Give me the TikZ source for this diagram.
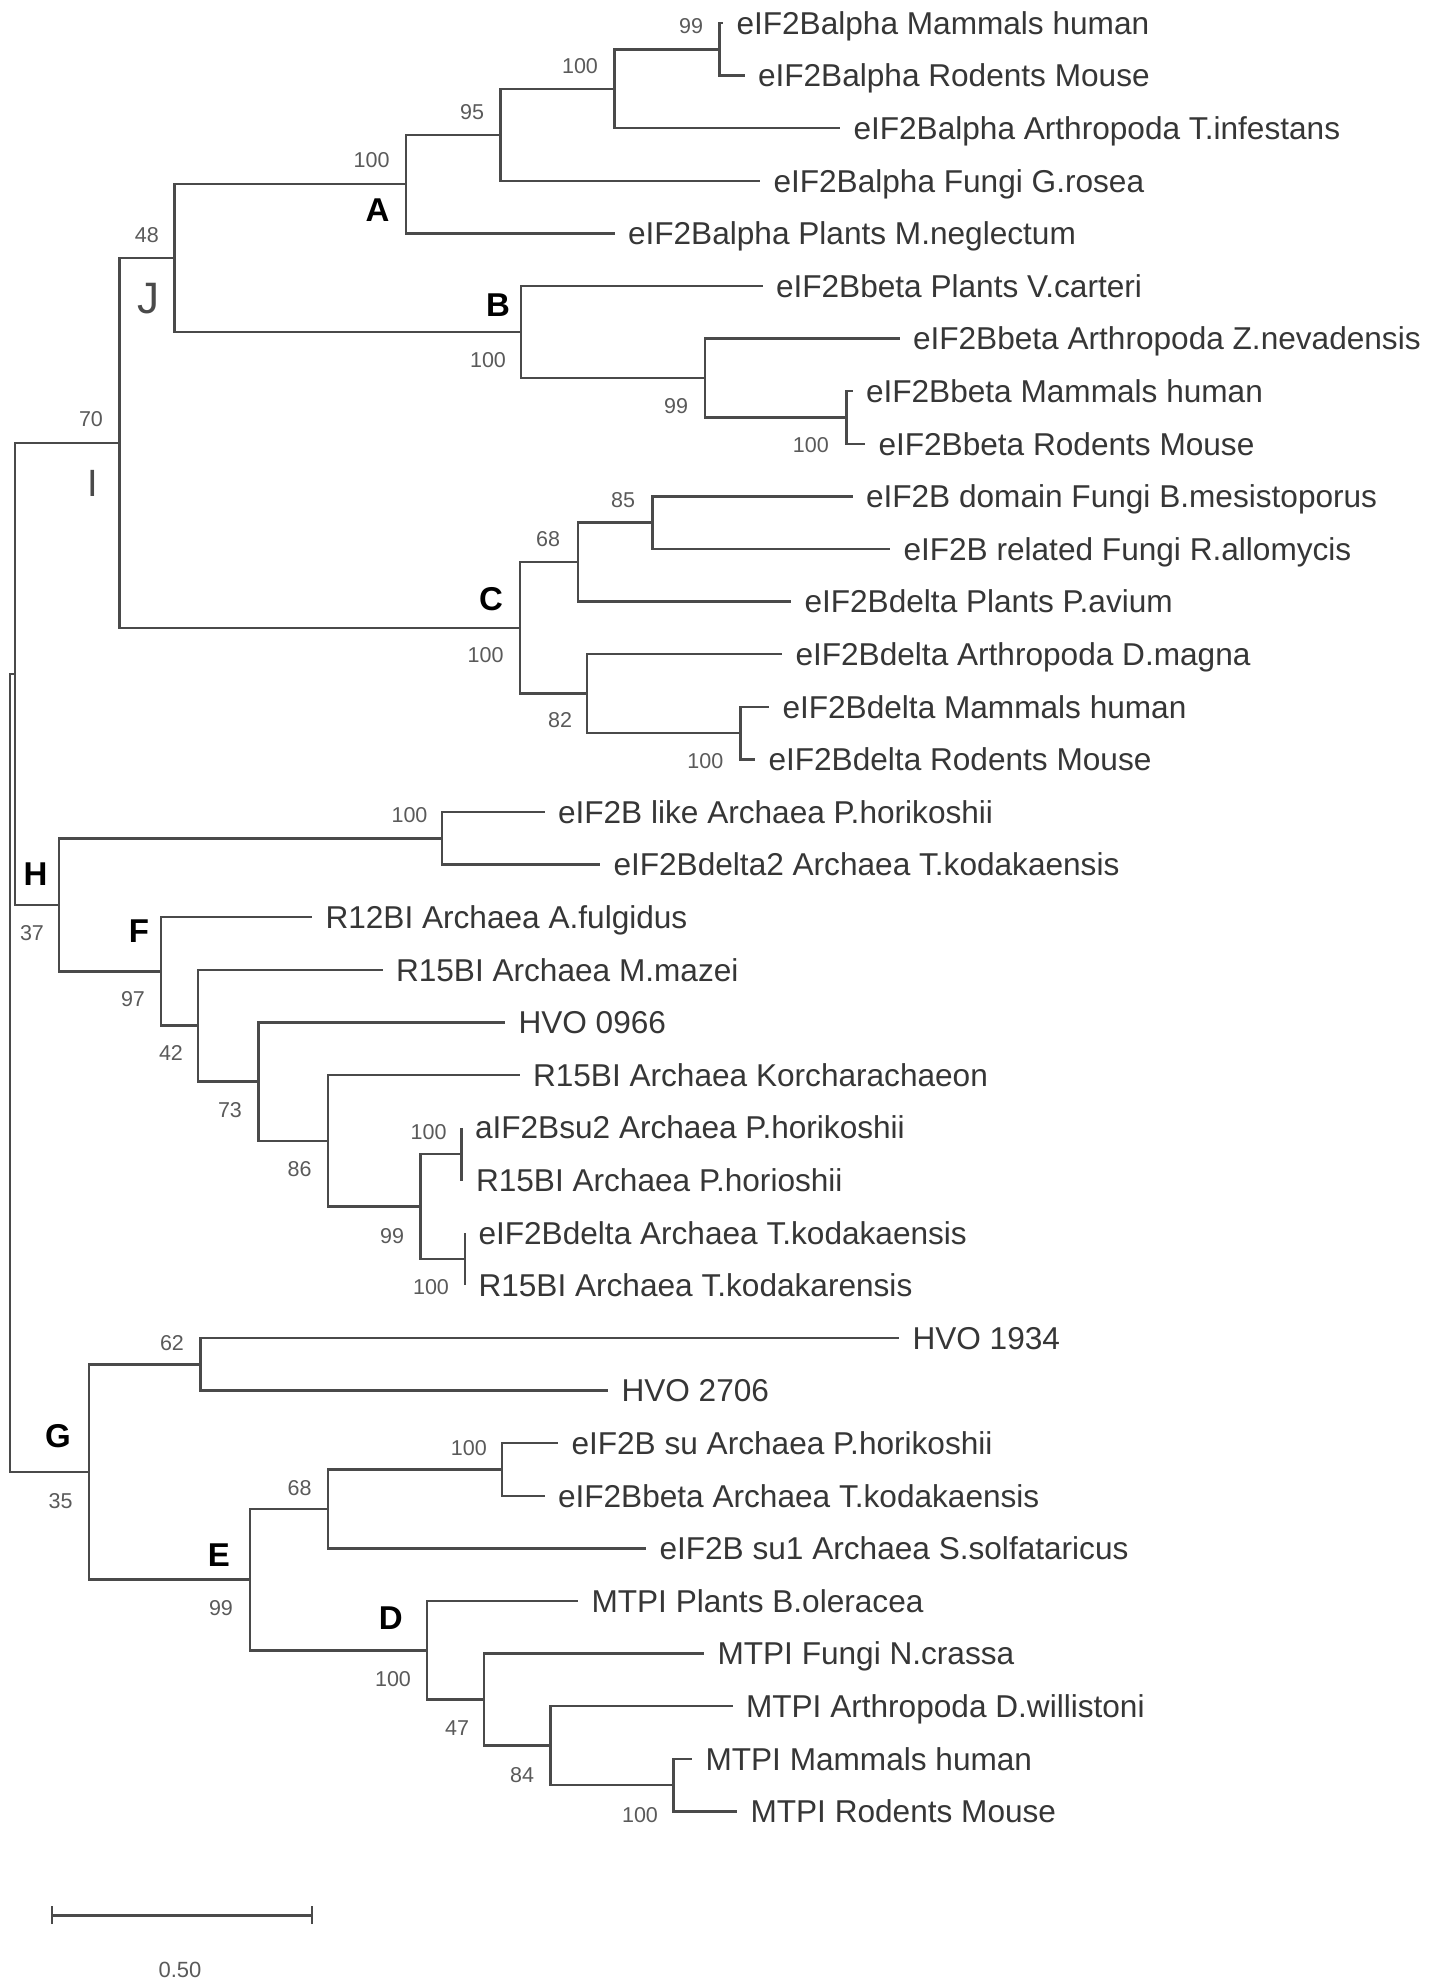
\documentclass[tikz,border=0pt]{standalone}
\usepackage{fontspec}
\setmainfont{Liberation Sans}
\definecolor{linec}{HTML}{4A4A4A}
\definecolor{leafc}{HTML}{363636}
\definecolor{bsc}{HTML}{5A5A5A}
\definecolor{romc}{HTML}{4A4A4A}
\newcommand\leaffont{\fontsize{31.6}{31.6}\selectfont}
\newcommand\bsfont{\fontsize{21.5}{21.5}\selectfont}
\newcommand\cladefont{\fontsize{33}{33}\selectfont\bfseries}
\newcommand\romJfont{\fontsize{44}{44}\selectfont}
\newcommand\romIfont{\fontsize{38}{38}\selectfont}
\tikzset{
  br/.style={draw=linec, line width=2.5pt},
  leaf/.style={anchor=west, inner xsep=13.5pt, inner ysep=0pt, outer sep=0pt,
    text height=22.5pt, text depth=0pt, font=\leaffont, text=leafc},
  bs/.style={font=\bsfont, text=bsc, inner sep=0pt},
  clade/.style={font=\cladefont, text=black, inner sep=0pt},
  romJ/.style={font=\romJfont, text=romc, inner sep=0pt},
  romI/.style={font=\romIfont, text=romc, inner sep=0pt},
}
\begin{document}
\begin{tikzpicture}[x=1pt, y=-1pt]
\fill[white] (0,0) rectangle (1429,1987);
\useasboundingbox (0,0) rectangle (1429,1987);

% ---- internal nodes ----
\coordinate (a99)  at (719.6,49.3);
\coordinate (a100) at (614.7,88.75);
\coordinate (a95)  at (500.7,134.8);
\coordinate (nA)   at (405.8,184.1);
\coordinate (b100) at (846.4,417.5);
\coordinate (b99)  at (705,378.05);
\coordinate (nB)   at (521,332.0);
\coordinate (nJ)   at (174.6,258.05);
\coordinate (c85)  at (652.6,522.7);
\coordinate (c68)  at (578,562.15);
\coordinate (c100) at (740.5,733.1);
\coordinate (c82)  at (587,693.65);
\coordinate (nC)   at (520,627.9);
\coordinate (nI)   at (119.5,442.98);
\coordinate (h100) at (442,838.3);
\coordinate (f100c) at (461.5,1153.9);
\coordinate (f100d) at (465,1259.1);
\coordinate (f99)  at (420.4,1206.5);
\coordinate (f86)  at (328,1140.75);
\coordinate (f73)  at (258.5,1081.6);
\coordinate (f42)  at (198,1025.7);
\coordinate (nF)   at (161,971.45);
\coordinate (nH)   at (59,904.9);
\coordinate (nX)   at (15,673.9);
\coordinate (g62)  at (200.6,1364.3);
\coordinate (e100) at (502,1469.5);
\coordinate (e68)  at (328,1508.95);
\coordinate (d100) at (673.4,1785.1);
\coordinate (d84)  at (550.5,1745.65);
\coordinate (d47)  at (484,1699.6);
\coordinate (nD)   at (427,1650.3);
\coordinate (nE)   at (250,1579.6);
\coordinate (nG)   at (89,1471.95);
\coordinate (root) at (10,1072.9);

% ---- leaves ----
\node[leaf] (L0)  at (723,23)      {eIF2Balpha Mammals human};
\node[leaf] (L1)  at (744.5,75.6)  {eIF2Balpha Rodents Mouse};
\node[leaf] (L2)  at (840,128.2)   {eIF2Balpha Arthropoda T.infestans};
\node[leaf] (L3)  at (760,180.8)   {eIF2Balpha Fungi G.rosea};
\node[leaf] (L4)  at (614.5,233.4) {eIF2Balpha Plants M.neglectum};
\node[leaf] (L5)  at (762.5,286)   {eIF2Bbeta Plants V.carteri};
\node[leaf] (L6)  at (899.5,338.6) {eIF2Bbeta Arthropoda Z.nevadensis};
\node[leaf] (L7)  at (852.5,391.2) {eIF2Bbeta Mammals human};
\node[leaf] (L8)  at (865,443.8)   {eIF2Bbeta Rodents Mouse};
\node[leaf] (L9)  at (852.5,496.4) {eIF2B domain Fungi B.mesistoporus};
\node[leaf] (L10) at (890,549)     {eIF2B related Fungi R.allomycis};
\node[leaf] (L11) at (791,601.6)   {eIF2Bdelta Plants P.avium};
\node[leaf] (L12) at (782,654.2)   {eIF2Bdelta Arthropoda D.magna};
\node[leaf] (L13) at (769,706.8)   {eIF2Bdelta Mammals human};
\node[leaf] (L14) at (755,759.4)   {eIF2Bdelta Rodents Mouse};
\node[leaf] (L15) at (544.5,812)   {eIF2B like Archaea P.horikoshii};
\node[leaf] (L16) at (600,864.6)   {eIF2Bdelta2 Archaea T.kodakaensis};
\node[leaf] (L17) at (312,917.2)   {R12BI Archaea A.fulgidus};
\node[leaf] (L18) at (382.5,969.8) {R15BI Archaea M.mazei};
\node[leaf] (L19) at (505,1022.4)  {HVO 0966};
\node[leaf] (L20) at (519.5,1075)  {R15BI Archaea Korcharachaeon};
\node[leaf] (L21) at (461.5,1127.6) {aIF2Bsu2 Archaea P.horikoshii};
\node[leaf] (L22) at (462.5,1180.2) {R15BI Archaea P.horioshii};
\node[leaf] (L23) at (465,1232.8)  {eIF2Bdelta Archaea T.kodakaensis};
\node[leaf] (L24) at (465,1285.4)  {R15BI Archaea T.kodakarensis};
\node[leaf] (L25) at (899,1338)    {HVO 1934};
\node[leaf] (L26) at (608,1390.6)  {HVO 2706};
\node[leaf] (L27) at (558,1443.2)  {eIF2B su Archaea P.horikoshii};
\node[leaf] (L28) at (544.5,1495.8) {eIF2Bbeta Archaea T.kodakaensis};
\node[leaf] (L29) at (646,1548.4)  {eIF2B su1 Archaea S.solfataricus};
\node[leaf] (L30) at (578,1601)    {MTPI Plants B.oleracea};
\node[leaf] (L31) at (704,1653.6)  {MTPI Fungi N.crassa};
\node[leaf] (L32) at (732.5,1706.2) {MTPI Arthropoda D.willistoni};
\node[leaf] (L33) at (692,1758.8)  {MTPI Mammals human};
\node[leaf] (L34) at (737,1811.4)  {MTPI Rodents Mouse};

% ---- branches ----
\draw[br] (a99) |- (L0.west);  \draw[br] (a99) |- (L1.west);
\draw[br] (a100) |- (a99);     \draw[br] (a100) |- (L2.west);
\draw[br] (a95) |- (a100);     \draw[br] (a95) |- (L3.west);
\draw[br] (nA) |- (a95);       \draw[br] (nA) |- (L4.west);
\draw[br] (b100) |- (L7.west); \draw[br] (b100) |- (L8.west);
\draw[br] (b99) |- (L6.west);  \draw[br] (b99) |- (b100);
\draw[br] (nB) |- (L5.west);   \draw[br] (nB) |- (b99);
\draw[br] (nJ) |- (nA);        \draw[br] (nJ) |- (nB);
\draw[br] (c85) |- (L9.west);  \draw[br] (c85) |- (L10.west);
\draw[br] (c68) |- (c85);      \draw[br] (c68) |- (L11.west);
\draw[br] (c100) |- (L13.west); \draw[br] (c100) |- (L14.west);
\draw[br] (c82) |- (L12.west); \draw[br] (c82) |- (c100);
\draw[br] (nC) |- (c68);       \draw[br] (nC) |- (c82);
\draw[br] (nI) |- (nJ);        \draw[br] (nI) |- (nC);
\draw[br] (h100) |- (L15.west); \draw[br] (h100) |- (L16.west);
\draw[br] (f100c) |- (L21.west); \draw[br] (f100c) |- (L22.west);
\draw[br] (f100d) |- (L23.west); \draw[br] (f100d) |- (L24.west);
\draw[br] (f99) |- (f100c);    \draw[br] (f99) |- (f100d);
\draw[br] (f86) |- (L20.west); \draw[br] (f86) |- (f99);
\draw[br] (f73) |- (L19.west); \draw[br] (f73) |- (f86);
\draw[br] (f42) |- (L18.west); \draw[br] (f42) |- (f73);
\draw[br] (nF) |- (L17.west);  \draw[br] (nF) |- (f42);
\draw[br] (nH) |- (h100);      \draw[br] (nH) |- (nF);
\draw[br] (nX) |- (nI);        \draw[br] (nX) |- (nH);
\draw[br] (g62) |- (L25.west); \draw[br] (g62) |- (L26.west);
\draw[br] (e100) |- (L27.west); \draw[br] (e100) |- (L28.west);
\draw[br] (e68) |- (e100);     \draw[br] (e68) |- (L29.west);
\draw[br] (d100) |- (L33.west); \draw[br] (d100) |- (L34.west);
\draw[br] (d84) |- (L32.west); \draw[br] (d84) |- (d100);
\draw[br] (d47) |- (L31.west); \draw[br] (d47) |- (d84);
\draw[br] (nD) |- (L30.west);  \draw[br] (nD) |- (d47);
\draw[br] (nE) |- (e68);       \draw[br] (nE) |- (nD);
\draw[br] (nG) |- (g62);       \draw[br] (nG) |- (nE);
\draw[br] (root) |- (nX);      \draw[br] (root) |- (nG);

% ---- bootstrap values ----
\node[bs] (s1)  at (691,26)      {99};
\node[bs] (s2)  at (580,66)      {100};
\node[bs] (s3)  at (472,112)     {95};
\node[bs] (s4)  at (371.6,160.5) {100};
\node[bs] (s5)  at (146.8,234.8) {48};
\node[bs] (s6)  at (488,360)     {100};
\node[bs] (s7)  at (676,405.8)   {99};
\node[bs] (s8)  at (810.8,444.6) {100};
\node[bs] (s9)  at (91,418.6)    {70};
\node[bs] (s10) at (623,500)     {85};
\node[bs] (s11) at (548,539.5)   {68};
\node[bs] (s12) at (485.6,655)   {100};
\node[bs] (s13) at (560,720.5)   {82};
\node[bs] (s14) at (705.4,760.6) {100};
\node[bs] (s15) at (409.5,815.4) {100};
\node[bs] (s16) at (32,932.6)    {37};
\node[bs] (s17) at (133,998.7)   {97};
\node[bs] (s18) at (171,1052.5)  {42};
\node[bs] (s19) at (230,1110)    {73};
\node[bs] (s20) at (299.6,1168.8) {86};
\node[bs] (s21) at (428.6,1132.3) {100};
\node[bs] (s22) at (392,1235.8)  {99};
\node[bs] (s23) at (431,1287)    {100};
\node[bs] (s24) at (172,1343)    {62};
\node[bs] (s25) at (60.6,1501)   {35};
\node[bs] (s26) at (468.8,1448.5) {100};
\node[bs] (s27) at (299.6,1487.7) {68};
\node[bs] (s28) at (221,1608.5)  {99};
\node[bs] (s29) at (393,1678.8)  {100};
\node[bs] (s30) at (457,1728)    {47};
\node[bs] (s31) at (522,1775)    {84};
\node[bs] (s32) at (640,1814.6)  {100};

% ---- clade letters ----
\node[clade] (kA) at (377.6,209.8) {A};
\node[clade] (kB) at (498,305.5)   {B};
\node[clade] (kC) at (491,598.7)   {C};
\node[clade] (kD) at (390.8,1618.6) {D};
\node[clade] (kE) at (219,1554.7)  {E};
\node[clade] (kF) at (139,931.6)   {F};
\node[clade] (kG) at (58,1436)     {G};
\node[clade] (kH) at (35.6,874)    {H};
\node[romJ] (kJ) at (148,298.7)    {J};
\node[romI] (kI) at (92.6,483.4)   {I};

% ---- scale bar ----
\coordinate (sb1) at (51.5,1915);
\coordinate (sb2) at (311.5,1915);
\draw[draw=linec, line width=3pt] (sb1) -- (sb2);
\draw[draw=linec, line width=2pt] ([yshift=-9pt]sb1) -- ([yshift=9pt]sb1);
\draw[draw=linec, line width=2pt] ([yshift=-9pt]sb2) -- ([yshift=9pt]sb2);
\node[bs, font=\fontsize{22}{22}\selectfont] (sbl) at (180,1969.7) {0.50};
\end{tikzpicture}
\end{document}
